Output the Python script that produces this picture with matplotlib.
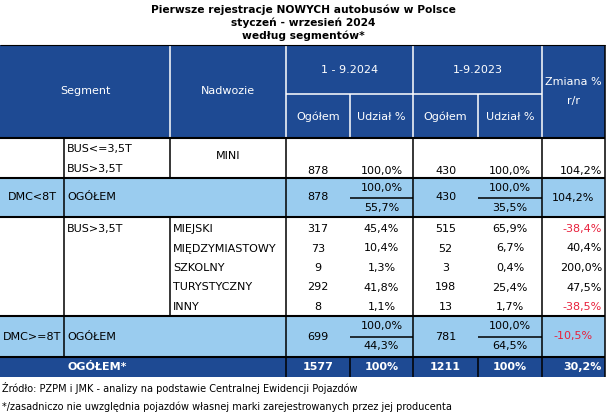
import matplotlib
matplotlib.use('Agg')
import matplotlib.pyplot as plt
from matplotlib.patches import Rectangle

# Data ----------------------------------------------------

title_lines = ['Pierwsze rejestracje NOWYCH autobusów w Polsce',
               'styczeń - wrzesień 2024',
               'według segmentów*']

periods = ['1 - 9.2024', '1-9.2023']

# MINI rows (BUS<=3,5T / BUS>3,5T)
mini_sub = ['BUS<=3,5T', 'BUS>3,5T']
mini_vals = [878, 100.0, 430, 100.0, 104.2]

# DMC<8T total
small_n = [878, 430]
small_share = [100.0, 100.0]
small_share_all = [55.7, 35.5]
small_change = 104.2

# BUS>3,5T rows
nadwozie = ['MIEJSKI', 'MIĘDZYMIASTOWY', 'SZKOLNY', 'TURYSTYCZNY', 'INNY']
n2024 = [317, 73, 9, 292, 8]
s2024 = [45.4, 10.4, 1.3, 41.8, 1.1]
n2023 = [515, 52, 3, 198, 13]
s2023 = [65.9, 6.7, 0.4, 25.4, 1.7]
zmiana = [-38.4, 40.4, 200.0, 47.5, -38.5]

# DMC>=8T total
big_n = [699, 781]
big_share = [100.0, 100.0]
big_share_all = [44.3, 64.5]
big_change = -10.5

# grand total
total_n = [1577, 1211]
total_change = 30.2

source = 'Źródło: PZPM i JMK - analizy na podstawie Centralnej Ewidencji Pojazdów'
note = '*/zasadniczo nie uwzględnia pojazdów własnej marki zarejestrowanych przez jej producenta'

# Style ---------------------------------------------------

DARK = '#1E4A93'
LIGHT = '#9ACCEF'
RED = '#E8203C'
FS = 8

plt.rcParams['font.family'] = ['DejaVu Sans']

def pct(v, dec=1):
    return f'{v:.{dec}f}'.replace('.', ',') + '%'

def col_c(v):
    return RED if v < 0 else 'black'

# grid in pixels
X = [0, 64, 170, 286, 350, 413, 478, 542, 605]
cx = [(X[i] + X[i + 1]) / 2 for i in range(len(X) - 1)]

fig = plt.figure(figsize=(6.08, 4.2), dpi=100)
ax = fig.add_axes([0, 0, 1, 1])
ax.set_xlim(0, 608)
ax.set_ylim(420, 0)
ax.axis('off')

def txt(x, y, s, ha='center', color='black', weight='normal', size=FS):
    ax.text(x, y, s, ha=ha, va='center', color=color, fontweight=weight, fontsize=size)

def hl(y, x0, x1, c='black', lw=1.1):
    ax.plot([x0, x1], [y, y], color=c, lw=lw, solid_capstyle='butt')

def vl(x, y0, y1, c='black', lw=1.1):
    ax.plot([x, x], [y0, y1], color=c, lw=lw, solid_capstyle='butt')

# Title ---------------------------------------------------
for i, line in enumerate(title_lines):
    txt(303, 10 + 13 * i, line, weight='bold', size=7.7)

# Header --------------------------------------------------
ax.add_patch(Rectangle((0, 45), 605, 93, color=DARK, lw=0))
for x in [170, 286, 413, 542]:
    vl(x, 45, 138, 'white')
for x in [350, 478]:
    vl(x, 94, 138, 'white')
hl(94, 286, 542, 'white')
txt((X[0] + X[2]) / 2, 91, 'Segment', color='white')
txt(cx[2], 91, 'Nadwozie', color='white')
txt((X[3] + X[5]) / 2, 70, periods[0], color='white')
txt((X[5] + X[7]) / 2, 70, periods[1], color='white')
for i in [3, 5]:
    txt(cx[i], 117, 'Ogółem', color='white')
    txt(cx[i + 1], 117, 'Udział %', color='white')
txt(cx[7], 82, 'Zmiana %', color='white')
txt(cx[7], 101, 'r/r', color='white')

# MINI section --------------------------------------------
txt(67, 149, mini_sub[0], ha='left')
txt(67, 169, mini_sub[1], ha='left')
txt(cx[2], 156, 'MINI')
txt(cx[3], 171, str(mini_vals[0]))
txt(cx[4], 171, pct(mini_vals[1]))
txt(cx[5], 171, str(mini_vals[2]))
txt(cx[6], 171, pct(mini_vals[3]))
txt(602, 171, pct(mini_vals[4]), ha='right', color=col_c(mini_vals[4]))

# light-blue subtotal rows
def subtotal(y0, y1, label, n, share, share_all, change):
    ax.add_patch(Rectangle((0, y0), 605, y1 - y0, color=LIGHT, lw=0))
    ym = (y0 + y1) / 2
    txt(cx[0], ym, label)
    txt(67, ym, 'OGÓŁEM', ha='left')
    for k, c in enumerate([3, 5]):
        txt(cx[c], ym, str(n[k]))
        txt(cx[c + 1], ym - 10, pct(share[k]))
        txt(cx[c + 1], ym + 10, pct(share_all[k]))
        hl(ym, X[c + 1], X[c + 2])
    txt(cx[7], ym, pct(change), color=col_c(change))
    for x in [64, 286, 413, 542]:
        vl(x, y0, y1)

subtotal(178, 217, 'DMC<8T', small_n, small_share, small_share_all, small_change)

# BUS>3,5T section ----------------------------------------
txt(67, 229, 'BUS>3,5T', ha='left')
for i, name in enumerate(nadwozie):
    y = 229 + 19.5 * i
    txt(173, y, name, ha='left')
    txt(cx[3], y, str(n2024[i]))
    txt(cx[4], y, pct(s2024[i]))
    txt(cx[5], y, str(n2023[i]))
    txt(cx[6], y, pct(s2023[i]))
    txt(602, y, pct(zmiana[i]), ha='right', color=col_c(zmiana[i]))

subtotal(316, 357, 'DMC>=8T', big_n, big_share, big_share_all, big_change)

# grand total row -----------------------------------------
ax.add_patch(Rectangle((0, 357), 605, 20, color=DARK, lw=0))
txt(97, 367, 'OGÓŁEM*', color='white', weight='bold')
for k, c in enumerate([3, 5]):
    txt(cx[c], 367, str(total_n[k]), color='white', weight='bold')
    txt(cx[c + 1], 367, '100%', color='white', weight='bold')
txt(602, 367, pct(total_change), ha='right', color='white', weight='bold')
for x in [286, 350, 413, 478, 542]:
    vl(x, 357, 377)

# body grid -----------------------------------------------
for x in [64, 170, 286, 413, 542]:
    vl(x, 138, 178)
    vl(x, 217, 316)
vl(605, 45, 377)
for y in [138, 178, 217, 316, 357]:
    hl(y, 0, 605, lw=1.5)
hl(45, 0, 605, lw=0.8)

# footer --------------------------------------------------
txt(2, 388, source, ha='left', size=7.0)
txt(2, 407, note, ha='left', size=7.0)

fig.savefig('out.png', dpi=100)
